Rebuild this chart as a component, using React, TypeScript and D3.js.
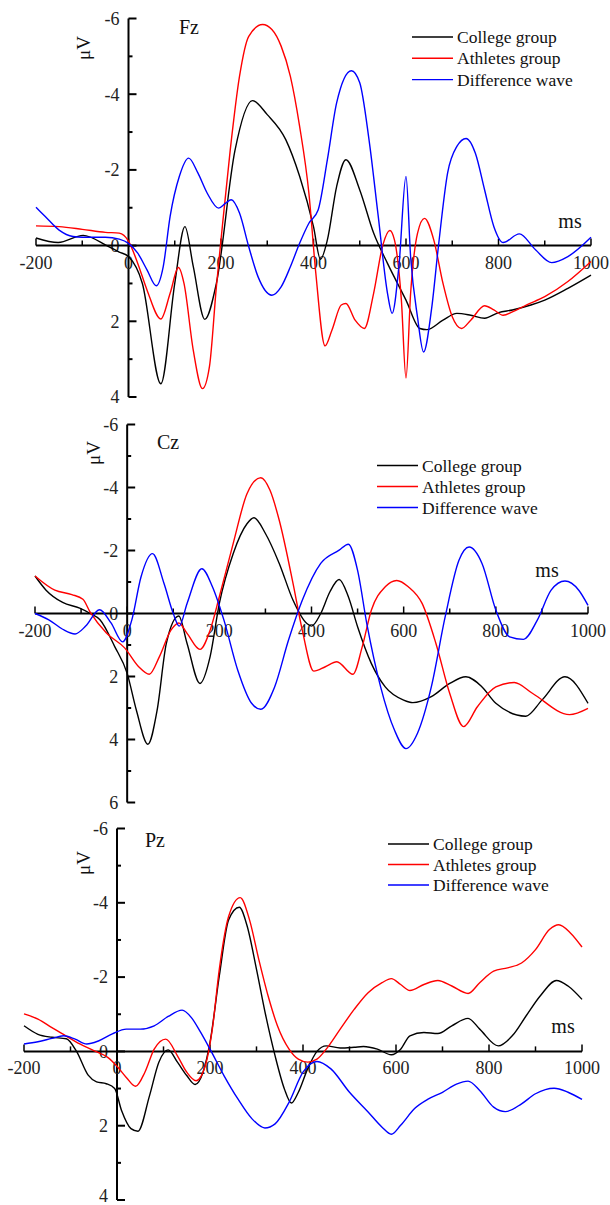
import React from "react";
import * as d3 from "d3";

// ---------- shared labels ----------
const xTickValues = [-200, 0, 200, 400, 600, 800, 1000];
const legendLabels = ["College group", "Athletes group", "Difference wave"];
const seriesColors = ["#000000", "#ff0000", "#0000ff"];
const xUnit = "ms";
const yUnit = "μV";

// ---------- Fz ----------
const fzCollegeT = [-200,-152,-98,-47,-20,0,30,70,100,122,140,165,190,230,268,300,340,370,400,415,430,450,470,500,530,560,600,630,645,680,710,740,770,800,830,870,900,950,1000];
const fzCollegeV = [-0.2,-0.08,-0.27,0,0.17,0.29,1.0,3.65,1.0,-0.5,0.55,1.95,1.0,-2.5,-3.83,-3.46,-2.8,-1.83,-0.5,0.36,-0.15,-1.56,-2.27,-1.47,-0.33,0.47,1.44,2.19,2.22,1.97,1.79,1.84,1.92,1.77,1.7,1.57,1.44,1.13,0.78];
const fzAthletesT = [-200,-150,-100,-50,-20,0,20,40,70,90,108,120,140,160,175,190,200,220,240,260,290,310,330,350,370,390,405,425,440,460,470,490,510,530,550,565,575,590,600,610,625,640,660,680,700,720,740,770,790,810,830,860,900,950,1000];
const fzAthletesV = [-0.52,-0.5,-0.43,-0.35,-0.33,-0.12,0.47,1.17,1.94,1.26,0.58,1.0,2.76,3.78,3.2,1.09,-0.15,-2.53,-4.47,-5.53,-5.84,-5.71,-5.27,-4.47,-3.15,-1.39,0.73,2.65,2.23,1.57,1.53,1.97,2.19,1.26,-0.02,-0.4,-0.15,1.44,3.5,1.26,-0.33,-0.72,-0.15,1.0,1.88,2.19,1.97,1.59,1.7,1.84,1.75,1.57,1.35,0.95,0.42];
const fzDiffT = [-200,-180,-150,-120,-100,-50,-20,0,20,40,60,75,90,110,130,150,170,195,210,222,240,260,280,310,330,350,370,390,410,430,450,482,500,520,540,560,570,585,600,610,625,638,655,670,690,710,730,750,770,790,810,845,880,915,950,1000];
const fzDiffV = [-1.01,-0.77,-0.41,-0.24,-0.22,-0.22,-0.17,-0.06,0.2,0.64,1.06,0.56,-0.77,-1.83,-2.31,-1.92,-1.39,-0.99,-1.12,-1.21,-0.86,0.03,0.82,1.31,1.09,0.56,-0.06,-0.59,-0.94,-2.27,-3.77,-4.62,-4.3,-2.8,-0.77,1.26,1.79,0.5,-1.83,0.3,1.9,2.81,1.7,0.03,-1.92,-2.62,-2.83,-2.44,-1.47,-0.5,-0.08,-0.31,0.11,0.45,0.29,-0.22];

// ---------- Cz ----------
const czCollegeT = [-200,-176,-140,-103,-80,-59,-27,0,20,45,65,85,112,130,158,180,200,230,260,275,300,330,360,390,400,420,440,460,480,500,530,560,600,620,660,700,735,770,800,865,900,950,1000];
const czCollegeV = [-1.19,-0.74,-0.35,-0.17,0.0,0.2,1.05,1.9,3.07,4.15,3.07,0.95,0.08,0.95,2.22,1.37,-0.32,-1.9,-2.85,-3.04,-2.54,-1.59,-0.42,0.32,0.4,0,-0.69,-1.08,-0.53,0.42,1.59,2.33,2.75,2.83,2.64,2.22,2.01,2.33,2.85,3.26,2.75,2.01,2.85];
const czAthletesT = [-200,-157,-120,-96,-81,-45,-5,25,48,70,95,112,130,158,180,200,230,260,290,310,330,360,380,405,430,455,490,510,530,560,585,610,640,670,700,730,760,800,840,880,960,1000];
const czAthletesV = [-1.19,-0.74,-0.6,-0.45,-0.06,0.62,1.1,1.69,1.93,1.37,0.53,0.3,0.63,1.14,0.53,-0.53,-2.22,-3.8,-4.31,-3.91,-2.96,-0.95,0.53,1.83,1.69,1.53,1.93,1.06,-0.11,-0.85,-1.05,-0.85,-0.32,0.95,2.54,3.59,2.96,2.33,2.19,2.54,3.21,3.01];
const czDiffT = [-200,-170,-140,-113,-90,-60,-35,-10,10,30,55,80,100,113,130,162,185,210,240,270,290,320,350,380,420,460,480,500,520,550,580,605,630,660,690,720,742,770,800,830,860,890,920,950,980,1000];
const czDiffV = [0,0.2,0.5,0.65,0.4,-0.12,0.3,0.9,0.21,-1.16,-1.9,-0.95,0,0.4,-0.32,-1.42,-0.85,0.21,1.8,2.85,3.04,2.33,0.85,-0.42,-1.59,-2.01,-2.2,-1.37,0.32,2.33,3.7,4.29,3.8,2.33,0.11,-1.69,-2.11,-1.59,-0.11,0.74,0.82,0.21,-0.74,-1.03,-0.74,-0.26];

// ---------- Pz ----------
const pzCollegeT = [-200,-170,-140,-109,-87,-62,-44,-23,-5,10,30,45,70,90,110,130,150,168,185,200,220,240,263,280,300,320,340,360,375,390,410,430,450,480,510,530,560,590,610,630,660,690,720,755,780,820,850,880,910,945,970,1000];
const pzCollegeV = [-0.69,-0.46,-0.38,-0.34,0.0,0.64,0.82,0.87,1.0,1.6,2.08,2.15,1.19,0.29,-0.04,0.29,0.65,0.89,0.56,-0.24,-2.03,-3.54,-3.88,-3.37,-2.21,-0.96,0.12,1.01,1.39,1.1,0.47,0,-0.15,-0.09,-0.11,-0.13,-0.06,0.09,-0.06,-0.42,-0.51,-0.48,-0.69,-0.89,-0.6,-0.15,-0.42,-0.96,-1.49,-1.91,-1.76,-1.4];
const pzAthletesT = [-200,-170,-140,-110,-80,-50,-20,0,20,40,60,80,105,130,150,170,190,205,220,240,265,285,305,325,345,370,390,410,430,450,480,510,540,570,590,610,630,660,690,720,755,780,810,840,870,900,930,950,975,1000];
const pzAthletesV = [-1.01,-0.87,-0.64,-0.42,-0.2,-0.02,0.16,0.4,0.7,0.94,0.56,-0.06,-0.33,0.12,0.56,0.79,0.38,-0.6,-2.21,-3.63,-4.14,-3.54,-2.47,-1.49,-0.69,-0.06,0.21,0.29,0.21,-0.06,-0.6,-1.13,-1.58,-1.85,-1.96,-1.8,-1.64,-1.8,-1.91,-1.76,-1.56,-1.85,-2.16,-2.25,-2.38,-2.74,-3.28,-3.41,-3.19,-2.81];
const pzDiffT = [-200,-170,-140,-115,-90,-65,-40,-10,20,50,80,110,140,160,180,200,230,260,290,318,340,370,400,430,460,500,540,570,590,610,640,670,700,730,755,780,810,835,870,900,940,970,1000];
const pzDiffV = [-0.2,-0.26,-0.35,-0.42,-0.33,-0.2,-0.28,-0.47,-0.6,-0.6,-0.69,-0.94,-1.11,-0.91,-0.51,-0.06,0.65,1.28,1.81,2.06,1.95,1.37,0.56,0.27,0.47,1.1,1.63,2.04,2.23,1.99,1.54,1.28,1.1,0.88,0.8,1.05,1.5,1.62,1.41,1.14,0.99,1.1,1.29];

// ---------- layout (positions only) ----------
type Layout = {
  name: string;
  x0: number; x1: number;
  yTop: number; yBottom: number; yMax: number;
  nameX: number; nameY: number;
  uvX: number; uvY: number;
  msX: number; msY: number;
  legX: number; legY: number; legGap: number;
};

const layouts: Layout[] = [
  { name: "Fz", x0: 36, x1: 591, yTop: 18.5, yBottom: 397, yMax: 4, nameX: 179, nameY: 34, uvX: 83, uvY: 48, msX: 570, msY: 228, legX: 412, legY: 37, legGap: 21.3 },
  { name: "Cz", x0: 35, x1: 588, yTop: 424.5, yBottom: 802.5, yMax: 6, nameX: 157, nameY: 449, uvX: 93, uvY: 453, msX: 547, msY: 577, legX: 377, legY: 465.5, legGap: 21 },
  { name: "Pz", x0: 24, x1: 582, yTop: 828.5, yBottom: 1200, yMax: 4, nameX: 145, nameY: 847, uvX: 83, uvY: 863, msX: 563, msY: 1033, legX: 388, legY: 844, legGap: 20.5 },
];

const panelSeries: [number[], number[]][][] = [
  [[fzCollegeT, fzCollegeV], [fzAthletesT, fzAthletesV], [fzDiffT, fzDiffV]],
  [[czCollegeT, czCollegeV], [czAthletesT, czAthletesV], [czDiffT, czDiffV]],
  [[pzCollegeT, pzCollegeV], [pzAthletesT, pzAthletesV], [pzDiffT, pzDiffV]],
];

const FONT = "'Liberation Serif', 'Times New Roman', serif";
const H = 1205;

function Panel({ layout, series }: { layout: Layout; series: [number[], number[]][] }) {
  const x = d3.scaleLinear().domain([-200, 1000]).range([layout.x0, layout.x1]);
  const y = d3.scaleLinear().domain([-6, layout.yMax]).range([layout.yTop, layout.yBottom]);
  const line = d3
    .line<[number, number]>()
    .x((d) => x(d[0]))
    .y((d) => y(d[1]))
    .curve(d3.curveMonotoneX);
  const ax = x(0);
  const ay = y(0);
  const yTicks = d3.range(-6, layout.yMax + 1, 1);
  const xMinor = d3.range(-200, 1001, 100);

  return (
    <g>
      {/* y axis */}
      <line x1={ax} x2={ax} y1={y(-6)} y2={y(layout.yMax)} stroke="#000" strokeWidth={2} />
      {yTicks.map((t) => (
        <line key={"yt" + t} x1={ax} x2={ax + (t % 2 === 0 ? 8 : 4)} y1={y(t)} y2={y(t)} stroke="#000" strokeWidth={2} />
      ))}
      {yTicks.filter((t) => t % 2 === 0).map((t) => (
        <text key={"yl" + t} x={ax - 9} y={Math.min(y(t), H - 9)} dy="0.35em" textAnchor="end" fontFamily={FONT} fontSize={18} fill="#222">
          {t}
        </text>
      ))}
      {/* x axis */}
      <line x1={x(-200)} x2={x(1000)} y1={ay} y2={ay} stroke="#000" strokeWidth={2} />
      {xMinor.map((t) => (
        <line key={"xt" + t} x1={x(t)} x2={x(t)} y1={ay} y2={ay - (t % 200 === 0 ? 7 : 5)} stroke="#000" strokeWidth={1.5} />
      ))}
      {xTickValues.map((t) => (
        <text key={"xl" + t} x={x(t)} y={ay + 23} textAnchor="middle" fontFamily={FONT} fontSize={18} fill="#222">
          {t}
        </text>
      ))}
      {/* curves */}
      {series.map(([ts, vs], i) => (
        <path
          key={"s" + i}
          d={line(ts.map((t, k) => [t, vs[k]] as [number, number])) || ""}
          fill="none"
          stroke={seriesColors[i]}
          strokeWidth={1.4}
        />
      ))}
      {/* labels */}
      <text x={layout.nameX} y={layout.nameY} fontFamily={FONT} fontSize={20} fill="#111">
        {layout.name}
      </text>
      <text
        transform={`translate(${layout.uvX},${layout.uvY}) rotate(-90)`}
        textAnchor="middle"
        dy="0.35em"
        fontFamily={FONT}
        fontSize={19}
        fill="#111"
      >
        {yUnit}
      </text>
      <text x={layout.msX} y={layout.msY} textAnchor="middle" fontFamily={FONT} fontSize={20} fill="#111">
        {xUnit}
      </text>
      {legendLabels.map((lab, i) => (
        <g key={"lg" + i}>
          <line
            x1={layout.legX}
            x2={layout.legX + 41}
            y1={layout.legY + i * layout.legGap}
            y2={layout.legY + i * layout.legGap}
            stroke={seriesColors[i]}
            strokeWidth={1.4}
          />
          <text
            x={layout.legX + 45}
            y={layout.legY + i * layout.legGap}
            dy="0.35em"
            fontFamily={FONT}
            fontSize={17.5}
            fill="#111"
          >
            {lab}
          </text>
        </g>
      ))}
    </g>
  );
}

export default function App() {
  return (
    <div style={{ position: "absolute", left: 0, top: 0, width: 610, height: H, background: "#fff" }}>
      <svg width={610} height={H} style={{ display: "block" }}>
        <rect width={610} height={H} fill="#fff" />
        {layouts.map((l, i) => (
          <Panel key={l.name} layout={l} series={panelSeries[i]} />
        ))}
      </svg>
    </div>
  );
}
